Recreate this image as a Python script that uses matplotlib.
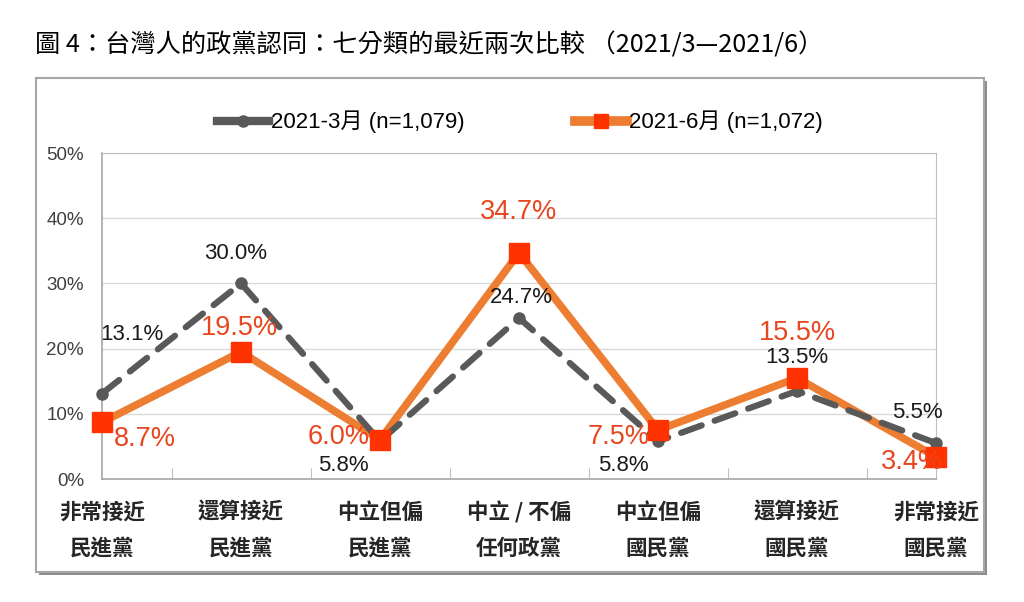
import numpy as np
import matplotlib.pyplot as plt
from matplotlib.patches import Rectangle
from matplotlib.lines import Line2D
import matplotlib.transforms as mtransforms

plt.rcParams['font.family'] = ['Liberation Sans', 'Noto Sans CJK TC', 'DejaVu Sans']

# data
categories_top = ['非常接近', '還算接近', '中立但偏', '中立 / 不偏', '中立但偏', '還算接近', '非常接近']
categories_bottom = ['民進黨', '民進黨', '民進黨', '任何政黨', '國民黨', '國民黨', '國民黨']
mar_2021 = [13.1, 30.0, 5.8, 24.7, 5.8, 13.5, 5.5]
jun_2021 = [8.7, 19.5, 6.0, 34.7, 7.5, 15.5, 3.4]
label_mar = '2021-3月 (n=1,079)'
label_jun = '2021-6月 (n=1,072)'
title = '圖 4：台灣人的政黨認同：七分類的最近兩次比較 （2021/3—2021/6）'

# label offsets in pixels (dx, dy)
off_mar = [(30, 59), (-5, 30), (-37, -24), (2, 20), (-35, -24), (0, 33), (-19, 31)]
off_jun = [(43, -17), (-2, 24), (-41, 3), (0, 41), (-39, -7), (0, 45), (-24, -5)]

gray = '#595959'
orange_line = '#ED7D31'
orange_mark = '#FF3300'
orange_text = '#E8461E'

dpi = 100
fig = plt.figure(figsize=(10.24, 6.02), dpi=dpi)
W, H = 1024, 602

# outer frame with shadow
fig.patches.append(Rectangle((39 / W, 1 - 575 / H), 948 / W, 494 / H, transform=fig.transFigure,
                             facecolor='#8C8C8C', edgecolor='none', zorder=0))
fig.patches.append(Rectangle((36 / W, 1 - 572 / H), 948 / W, 494 / H, transform=fig.transFigure,
                             facecolor='white', edgecolor='#A6A6A6', linewidth=1.5, zorder=1))

ax = fig.add_axes([102 / W, 1 - 479 / H, 834 / W, 326 / H])
ax.set_zorder(2)
x = np.arange(len(mar_2021))

ax.plot(x, jun_2021, color=orange_line, linewidth=5.5, zorder=2, clip_on=False, solid_joinstyle='miter')
ax.plot(x, mar_2021, color=gray, linewidth=4.5, linestyle=(0, (3.5, 2.2)), dash_capstyle='round',
        marker='o', markersize=8, zorder=3, clip_on=False)
ax.plot(x, jun_2021, linestyle='none', marker='s', markersize=14, color=orange_mark,
        zorder=4, clip_on=False)

k = 72 / dpi
for i in range(len(x)):
    ax.annotate(f'{mar_2021[i]:.1f}%', (x[i], mar_2021[i]), xytext=(off_mar[i][0] * k, off_mar[i][1] * k),
                textcoords='offset points', ha='center', va='center', fontsize=16, color='#1A1A1A',
                zorder=5, annotation_clip=False)
    ax.annotate(f'{jun_2021[i]:.1f}%', (x[i], jun_2021[i]), xytext=(off_jun[i][0] * k, off_jun[i][1] * k),
                textcoords='offset points', ha='center', va='center', fontsize=19.5, color=orange_text,
                zorder=5, annotation_clip=False)

ax.set_xlim(0, 6)
ax.set_ylim(0, 50)
ax.set_yticks(np.arange(0, 51, 10))
ax.set_yticklabels([f'{v}%' for v in range(0, 51, 10)], fontsize=13.5, color='#404040')
ax.tick_params(axis='y', length=0, pad=13)
ax.set_xticks(np.arange(0.5, 6, 1))
ax.set_xticklabels([])
ax.tick_params(axis='x', direction='in', length=8, color='#BFBFBF')
ax.grid(axis='y', color='#D9D9D9', linewidth=1)
ax.set_axisbelow(True)
for s in ['top', 'right']:
    ax.spines[s].set_color('#BFBFBF')
for s in ['left', 'bottom']:
    ax.spines[s].set_color('#A6A6A6')
    ax.spines[s].set_linewidth(1.2)

trans = mtransforms.blended_transform_factory(ax.transData, fig.transFigure)
for i in range(len(x)):
    ax.text(x[i], 1 - 512 / H, categories_top[i], transform=trans, ha='center', va='center',
            fontsize=15.5, fontweight='bold', color='#262626', family=['Noto Sans CJK TC'])
    ax.text(x[i], 1 - 548 / H, categories_bottom[i], transform=trans, ha='center', va='center',
            fontsize=15.5, fontweight='bold', color='#262626', family=['Noto Sans CJK TC'])

handles = [Line2D([], [], color=gray, linewidth=6, marker='o', markersize=8),
           Line2D([], [], color=orange_line, linewidth=7, marker='s', markersize=10,
                  markerfacecolor=orange_mark, markeredgecolor=orange_mark)]
fig.legend(handles, [label_mar, label_jun], loc='center', bbox_to_anchor=(520 / W, 1 - 122 / H),
           ncol=2, frameon=False, fontsize=16, handlelength=2.3, columnspacing=5.0, handletextpad=0.1)

fig.text(35 / W, 1 - 45 / H, title, ha='left', va='center', fontsize=18.2,
         family=['Noto Sans CJK TC', 'DejaVu Sans'], color='black')

plt.savefig('out.png', dpi=dpi)
